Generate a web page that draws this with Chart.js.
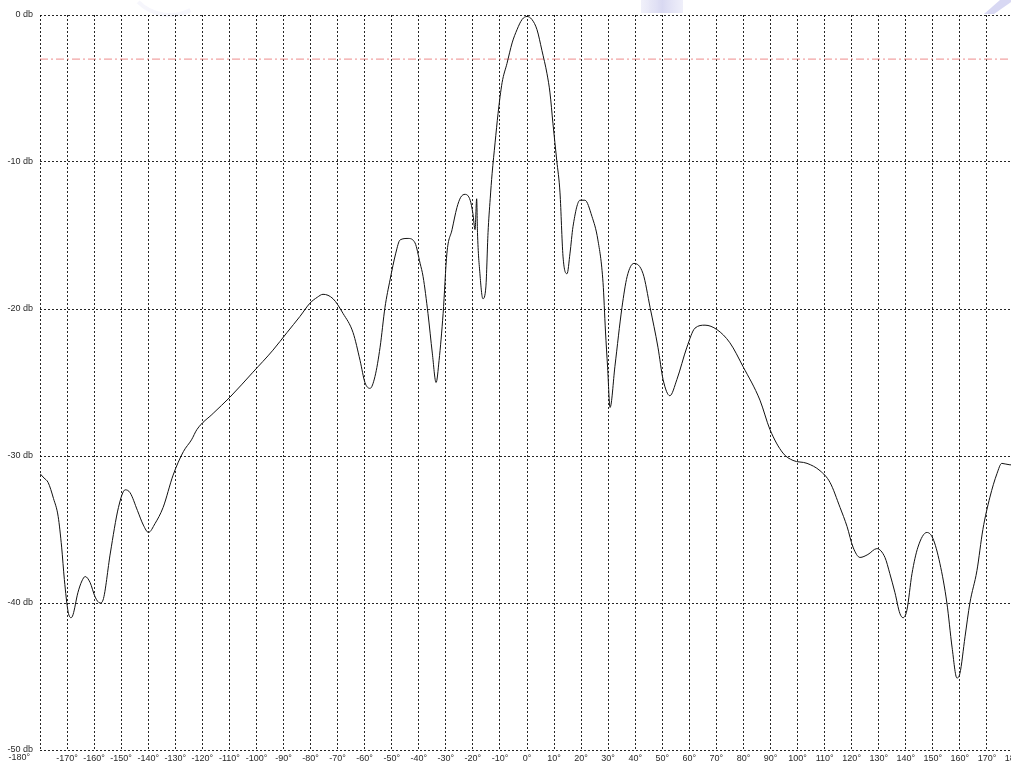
<!DOCTYPE html>
<html>
<head>
<meta charset="utf-8">
<script src="https://cdn.jsdelivr.net/npm/chart.js@4/dist/chart.umd.min.js"></script>
<style>
  html, body { margin: 0; padding: 0; overflow: hidden; background: #fff; }
  #wrap { width: 1030px; height: 763px; position: relative; }
</style>
</head>
<body>
<div id="wrap"><canvas id="c" width="1030" height="763"></canvas></div>
<script>
// Antenna radiation pattern: angle (degrees) vs. relative gain (dB)
const angles = [
  -180, -178.5, -177, -175, -173.3, -172, -171, -169.6, -168.5, -167.8,
  -166, -164.5, -163.3, -161.5, -159.6, -157.8, -156.7, -154, -151, -148.5,
  -146.7, -144, -141.8, -139.9, -137.5, -134.5, -130.8, -127, -124, -122,
  -116, -109.8, -101.3, -93.9, -88.7, -83.9, -80.2, -77.5, -75.4, -71.7,
  -68, -64.3, -61.7, -59.9, -58, -56.2, -54.3, -52.5, -50.6, -48.5,
  -46.9, -44, -41.4, -39.5, -38.4, -36.6, -35, -33.6, -32.5, -31,
  -29.6, -27.7, -25.9, -24.5, -22.9, -21, -20, -19.2, -18.6, -18.3,
  -17.4, -16.3, -15.2, -14.4, -13.6, -12.9, -11.8, -10.7, -9.2, -7.4,
  -5.5, -3.7, -1.8, 0, 1.8, 3.7, 5.5, 7.4, 8.5, 9.6,
  11, 12.2, 13.3, 14.8, 15.9, 17, 19.6, 21.4, 24, 26.2,
  28.1, 29, 29.8, 30.7, 32.5, 35.1, 37, 39.5, 42.9, 45.5,
  48.4, 50.3, 52.8, 55.4, 59.1, 62.1, 65.8, 70.2, 75, 79.8,
  86.1, 89.8, 94.6, 98.3, 103.5, 108.3, 112, 115.7, 118.3, 120.5,
  123.1, 126, 129.3, 132.3, 134.1, 136, 137.8, 139, 140.4, 142.3,
  144.5, 147.8, 150, 152.6, 155.2, 157.1, 158.9, 160, 161.9, 163.7,
  166.3, 168.5, 171.1, 173.7, 175.5, 178.5, 180
];
const gainDb = [
  -31.2, -31.5, -31.8, -32.9, -34.1, -36.2, -38.4, -40.6, -41.0, -40.8,
  -39.3, -38.5, -38.2, -38.6, -39.6, -40.0, -39.8, -36.6, -33.5, -32.3,
  -32.5, -33.7, -34.7, -35.2, -34.6, -33.5, -31.3, -29.7, -28.9, -28.2,
  -27.1, -26.0, -24.3, -22.8, -21.6, -20.5, -19.6, -19.2, -19.0, -19.3,
  -20.3, -21.6, -23.5, -25.0, -25.4, -24.6, -22.6, -19.9, -18.0, -16.2,
  -15.3, -15.2, -15.5, -16.9, -17.8, -20.3, -23.0, -25.0, -23.5, -20.3,
  -16.2, -14.6, -13.1, -12.4, -12.2, -12.6, -13.5, -14.6, -12.5, -14.8,
  -17.6, -19.3, -18.5, -14.8, -12.5, -10.8, -8.7, -6.7, -4.6, -3.3,
  -1.9, -1.0, -0.3, -0.1, -0.3, -1.0, -2.4, -4.0, -5.3, -7.4,
  -9.9, -12.1, -16.4, -17.6, -16.2, -14.4, -12.6, -12.6, -13.7, -15.3,
  -18.2, -21.5, -24.0, -26.7, -23.9, -19.9, -17.8, -16.9, -17.6, -19.9,
  -22.6, -24.8, -25.9, -24.8, -22.6, -21.3, -21.1, -21.4, -22.3, -23.9,
  -26.2, -28.2, -29.8, -30.3, -30.5, -31.0, -31.8, -33.5, -34.8, -36.2,
  -36.9, -36.7, -36.3, -36.9, -38.0, -39.3, -40.7, -41.0, -40.5, -38.0,
  -36.2, -35.2, -35.6, -37.3, -40.0, -43.0, -45.1, -44.8, -42.3, -40.0,
  -37.8, -35.0, -32.8, -31.2, -30.5, -30.6, -30.6
];
// -3 dB half-power reference level
const halfPowerDb = -3;
const angleRange = [-180, 180];
const angleStep = 10;
const dbRange = [-50, 0];
const dbStep = 10;

const patternPoints = angles.map((a, i) => ({ x: a, y: gainDb[i] }));
const halfPowerPoints = angleRange.map(a => ({ x: a, y: halfPowerDb }));

const labelFont = { family: "'Liberation Sans', Arial, sans-serif", size: 9 };
const labelColor = '#2a2a2a';

// faint logo shapes behind the plot
const backdrop = {
  id: 'backdrop',
  beforeDraw(chart) {
    const ctx = chart.ctx;
    ctx.save();
    const g = ctx.createLinearGradient(640, 0, 685, 0);
    g.addColorStop(0, 'rgba(205,205,238,0.25)');
    g.addColorStop(0.5, 'rgba(200,200,236,0.7)');
    g.addColorStop(1, 'rgba(215,215,242,0.35)');
    ctx.fillStyle = g;
    ctx.fillRect(641, 0, 42, 13);
    ctx.fillStyle = 'rgba(200,200,238,0.7)';
    ctx.beginPath();
    ctx.moveTo(1000, 0); ctx.lineTo(1014, 0); ctx.lineTo(994, 14); ctx.lineTo(984, 14);
    ctx.closePath(); ctx.fill();
    ctx.strokeStyle = 'rgba(225,225,245,0.3)';
    ctx.lineWidth = 4;
    ctx.beginPath();
    ctx.arc(170, -30, 45, 0.35 * Math.PI, 0.75 * Math.PI);
    ctx.stroke();
    ctx.restore();
  },
  afterDraw(chart) {
    // first angle label sits left of the plot corner
    const ctx = chart.ctx;
    const xs = chart.scales.x;
    ctx.save();
    ctx.font = `${labelFont.size}px ${labelFont.family}`;
    ctx.fillStyle = labelColor;
    ctx.textAlign = 'right';
    ctx.textBaseline = 'top';
    ctx.fillText(angleRange[0] + '°', xs.getPixelForValue(angleRange[0]) - 10, chart.chartArea.bottom + 3);
    ctx.restore();
  }
};

new Chart(document.getElementById('c'), {
  type: 'line',
  data: {
    datasets: [
      {
        data: patternPoints,
        borderColor: '#111',
        borderWidth: 1,
        pointRadius: 0,
        cubicInterpolationMode: 'monotone',
        fill: false,
        order: 0
      },
      {
        data: halfPowerPoints,
        borderColor: 'rgba(232,110,110,0.8)',
        borderWidth: 1,
        borderDash: [8, 3, 2, 3],
        pointRadius: 0,
        fill: false,
        order: 1
      }
    ]
  },
  options: {
    responsive: false,
    animation: false,
    events: [],
    layout: { padding: { left: 0, top: 15, right: 16, bottom: 0 } },
    plugins: { legend: { display: false }, tooltip: { enabled: false } },
    scales: {
      x: {
        type: 'linear',
        min: angleRange[0],
        max: angleRange[1],
        afterFit(s) { s.height = 13; },
        grid: { color: 'rgba(0,0,0,0.85)', lineWidth: 1, drawTicks: false },
        border: { display: false, dash: [2, 2] },
        ticks: {
          stepSize: angleStep,
          autoSkip: false,
          maxRotation: 0,
          padding: 3,
          font: labelFont,
          color: labelColor,
          callback: v => (v === angleRange[0] ? '' : v + '°')
        }
      },
      y: {
        type: 'linear',
        min: dbRange[0],
        max: dbRange[1],
        afterFit(s) { s.width = 40; },
        grid: { color: 'rgba(0,0,0,0.85)', lineWidth: 1, drawTicks: false },
        border: { display: false, dash: [2, 2] },
        ticks: {
          stepSize: dbStep,
          padding: 7,
          font: labelFont,
          color: labelColor,
          callback: v => v + ' db'
        }
      }
    }
  },
  plugins: [backdrop]
});
</script>
</body>
</html>
